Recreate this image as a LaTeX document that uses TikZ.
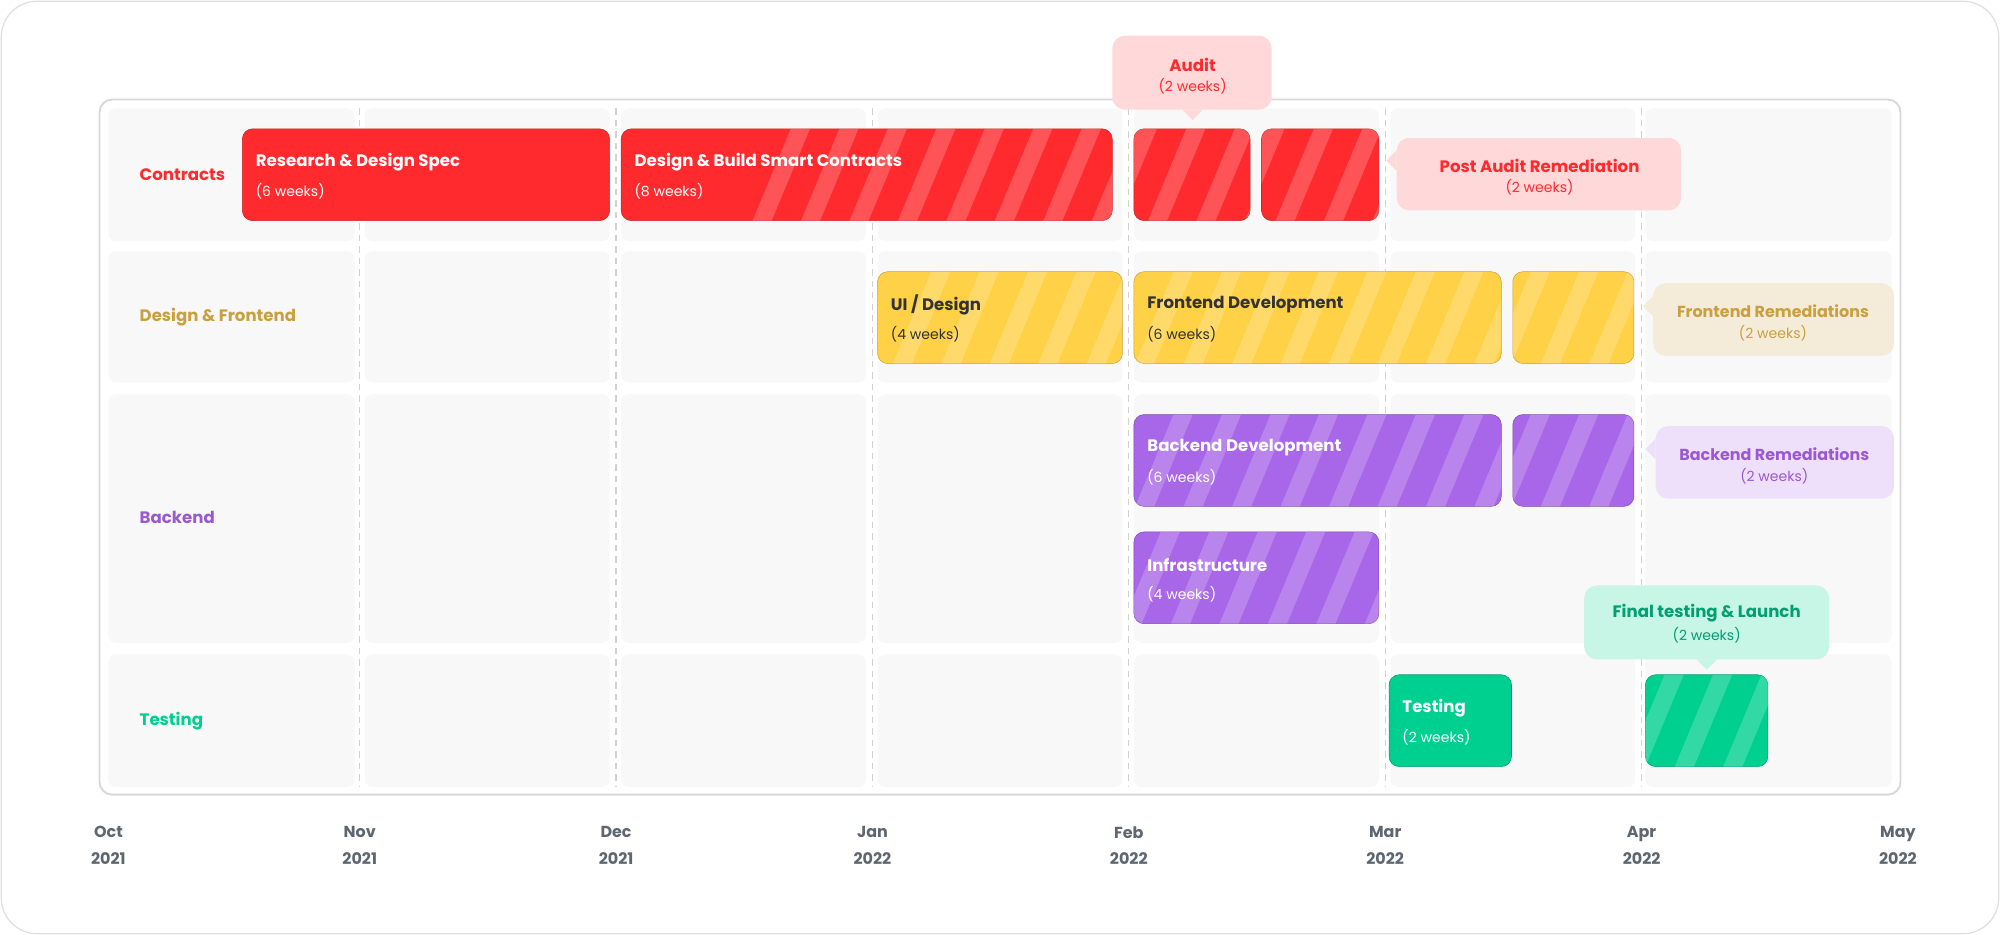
\documentclass[tikz,border=0pt]{standalone}
\usepackage{fontspec}
\setmainfont{Poppins}
\definecolor{cred}{HTML}{FF2A2D}
\definecolor{cyel}{HTML}{FFD147}
\definecolor{cyelb}{HTML}{C9A040}
\definecolor{cpur}{HTML}{A866E8}
\definecolor{cpurt}{HTML}{9B59D0}
\definecolor{cgrn}{HTML}{00D08F}
\definecolor{cgrnt}{HTML}{00A070}
\definecolor{cgrid}{HTML}{F8F8F8}
\definecolor{cgray}{HTML}{5E6770}
\tikzset{
 lbl/.style={anchor=west,font=\fontsize{13}{15}\selectfont\bfseries},
 ttl/.style={anchor=west,font=\fontsize{13}{15}\selectfont\bfseries},
 sub/.style={anchor=west,font=\fontsize{11}{13}\selectfont},
 mon/.style={font=\fontsize{12.5}{15}\selectfont\bfseries,text=cgray,align=center},
}
% \gbar{name}{x1}{y1}{x2}{y2}{fill}{border}{stripe start}
\newcommand\gbar[8]{%
 \draw[fill=#6,draw=#7,rounded corners=8pt] (#2,#3) rectangle (#4,#5);
 \begin{scope}
 \clip[rounded corners=8pt] (#2,#3) rectangle (#4,#5);
 \foreach \k in {0,...,12}{%
  \fill[white,opacity=.2] ({#8+\k*38},#5) -- ++(15,0) -- ++(30,{#3-#5}) -- ++(-15,0) -- cycle;}
 \end{scope}
 \coordinate (#1) at (#2,#3);}
% \callout{name}{x1}{y1}{x2}{y2}{fill}{pointer: b/l}{px or py}
\newcommand\callout[8]{%
 \fill[#6,rounded corners=10pt] (#2,#3) rectangle (#4,#5);
 \if#7b\fill[#6] ({#8-8},#5) -- (#8,{#5+8}) -- ({#8+8},#5) -- cycle;\fi
 \if#7l\fill[#6] (#2,{#8-8}) -- ({#2-8},#8) -- (#2,{#8+8}) -- cycle;\fi
 \coordinate (#1) at ({(#2+#4)/2},{(#3+#5)/2});}
\begin{document}
\begin{tikzpicture}[x=1pt,y=-1pt]
\useasboundingbox (0,0) rectangle (1568,733);
\draw[black!12,line width=1pt,fill=white,rounded corners=28pt] (1,1) rectangle (1567,732);
\draw[black!15,line width=1.5pt,rounded corners=10pt] (78,78) rectangle (1490,623);
\foreach \a/\b in {85/189,197/300,309/504,513/617}
 \foreach \xa/\xb in {85/278,286/478,487/679,688/880,889/1081,1090/1282,1290/1483}
  \fill[cgrid,rounded corners=6pt] (\xa,\a) rectangle (\xb,\b);
\foreach \x in {282,483,684,885,1086,1287}
 \draw[black!18,dashed,line width=1pt,dash pattern=on 5pt off 4pt] (\x,85) -- (\x,617);
\foreach \x/\m/\yr [count=\i] in {85/Oct/2021,282/Nov/2021,483/Dec/2021,684/Jan/2022,885/Feb/2022,1086/Mar/2022,1287/Apr/2022,1488/May/2022}
 \node[mon] (m\i) at (\x,663) {\m\\[6pt]\yr};
\node[lbl,text=cred] (lc) at (106,137) {Contracts};
\node[lbl,text=cyelb] (ld) at (106,249) {Design \& Frontend};
\node[lbl,text=cpurt] (lb) at (106,406) {Backend};
\node[lbl,text=cgrn] (lt) at (106,565) {Testing};
% contracts
\gbar{r1}{190}{101}{478}{173}{cred}{cred!80!black}{2000}
\gbar{r2}{487}{101}{872}{173}{cred}{cred!80!black}{590}
\gbar{r3}{889}{101}{980}{173}{cred}{cred!80!black}{862}
\gbar{r4}{989}{101}{1081}{173}{cred}{cred!80!black}{962}
\node[ttl,text=white] (t1) at (197,127) {Research \& Design Spec};
\node[sub,text=white] (s1) at (197,150) {(6 weeks)};
\node[ttl,text=white] (t2) at (494,127) {Design \& Build Smart Contracts};
\node[sub,text=white] (s2) at (494,150) {(8 weeks)};
\callout{ca}{872}{28}{997}{86}{cred!18}{b}{935}
\node[font=\fontsize{13}{15}\selectfont\bfseries,text=cred] (cat) at (935,51) {Audit};
\node[font=\fontsize{11}{13}\selectfont,text=cred] (cas) at (935,68) {(2 weeks)};
\callout{cp}{1095}{108}{1318}{165}{cred!18}{l}{126}
\node[font=\fontsize{13}{15}\selectfont\bfseries,text=cred] (cpt) at (1207,130) {Post Audit Remediation};
\node[font=\fontsize{11}{13}\selectfont,text=cred] (cps) at (1207,147) {(2 weeks)};
% design
\gbar{y1}{688}{213}{880}{285}{cyel}{cyelb}{700}
\gbar{y2}{889}{213}{1177}{285}{cyel}{cyelb}{890}
\gbar{y3}{1186}{213}{1281}{285}{cyel}{cyelb}{1170}
\node[ttl,text=black!80] (t3) at (695,239) {UI / Design};
\node[sub,text=black!80] (s3) at (695,262) {(4 weeks)};
\node[ttl,text=black!80] (t4) at (896,239) {Frontend Development};
\node[sub,text=black!80] (s4) at (896,262) {(6 weeks)};
\callout{cf}{1296}{222}{1485}{279}{cyelb!20}{l}{240}
\node[font=\fontsize{12.5}{15}\selectfont\bfseries,text=cyelb] (cft) at (1390,244) {Frontend Remediations};
\node[font=\fontsize{11}{13}\selectfont,text=cyelb] (cfs) at (1390,261) {(2 weeks)};
% backend
\gbar{p1}{889}{325}{1177}{397}{cpur}{cpur!75!black}{890}
\gbar{p2}{1186}{325}{1281}{397}{cpur}{cpur!75!black}{1170}
\gbar{p3}{889}{417}{1081}{489}{cpur}{cpur!75!black}{880}
\node[ttl,text=white] (t5) at (896,351) {Backend Development};
\node[sub,text=white] (s5) at (896,374) {(6 weeks)};
\node[ttl,text=white] (t6) at (896,443) {Infrastructure};
\node[sub,text=white] (s6) at (896,466) {(4 weeks)};
\callout{cb}{1298}{334}{1485}{391}{cpur!20}{l}{352}
\node[font=\fontsize{12.5}{15}\selectfont\bfseries,text=cpurt] (cbt) at (1391,356) {Backend Remediations};
\node[font=\fontsize{11}{13}\selectfont,text=cpurt] (cbs) at (1391,373) {(2 weeks)};
% testing
\gbar{g1}{1089}{529}{1185}{601}{cgrn}{cgrn!75!black}{3000}
\gbar{g2}{1290}{529}{1386}{601}{cgrn}{cgrn!75!black}{1275}
\node[ttl,text=white] (t7) at (1096,555) {Testing};
\node[sub,text=white] (s7) at (1096,578) {(2 weeks)};
\callout{cg}{1242}{459}{1434}{517}{cgrn!22}{b}{1338}
\node[font=\fontsize{13}{15}\selectfont\bfseries,text=cgrnt] (cgt) at (1338,481) {Final testing \& Launch};
\node[font=\fontsize{11}{13}\selectfont,text=cgrnt] (cgs) at (1338,498) {(2 weeks)};
\end{tikzpicture}
\end{document}
